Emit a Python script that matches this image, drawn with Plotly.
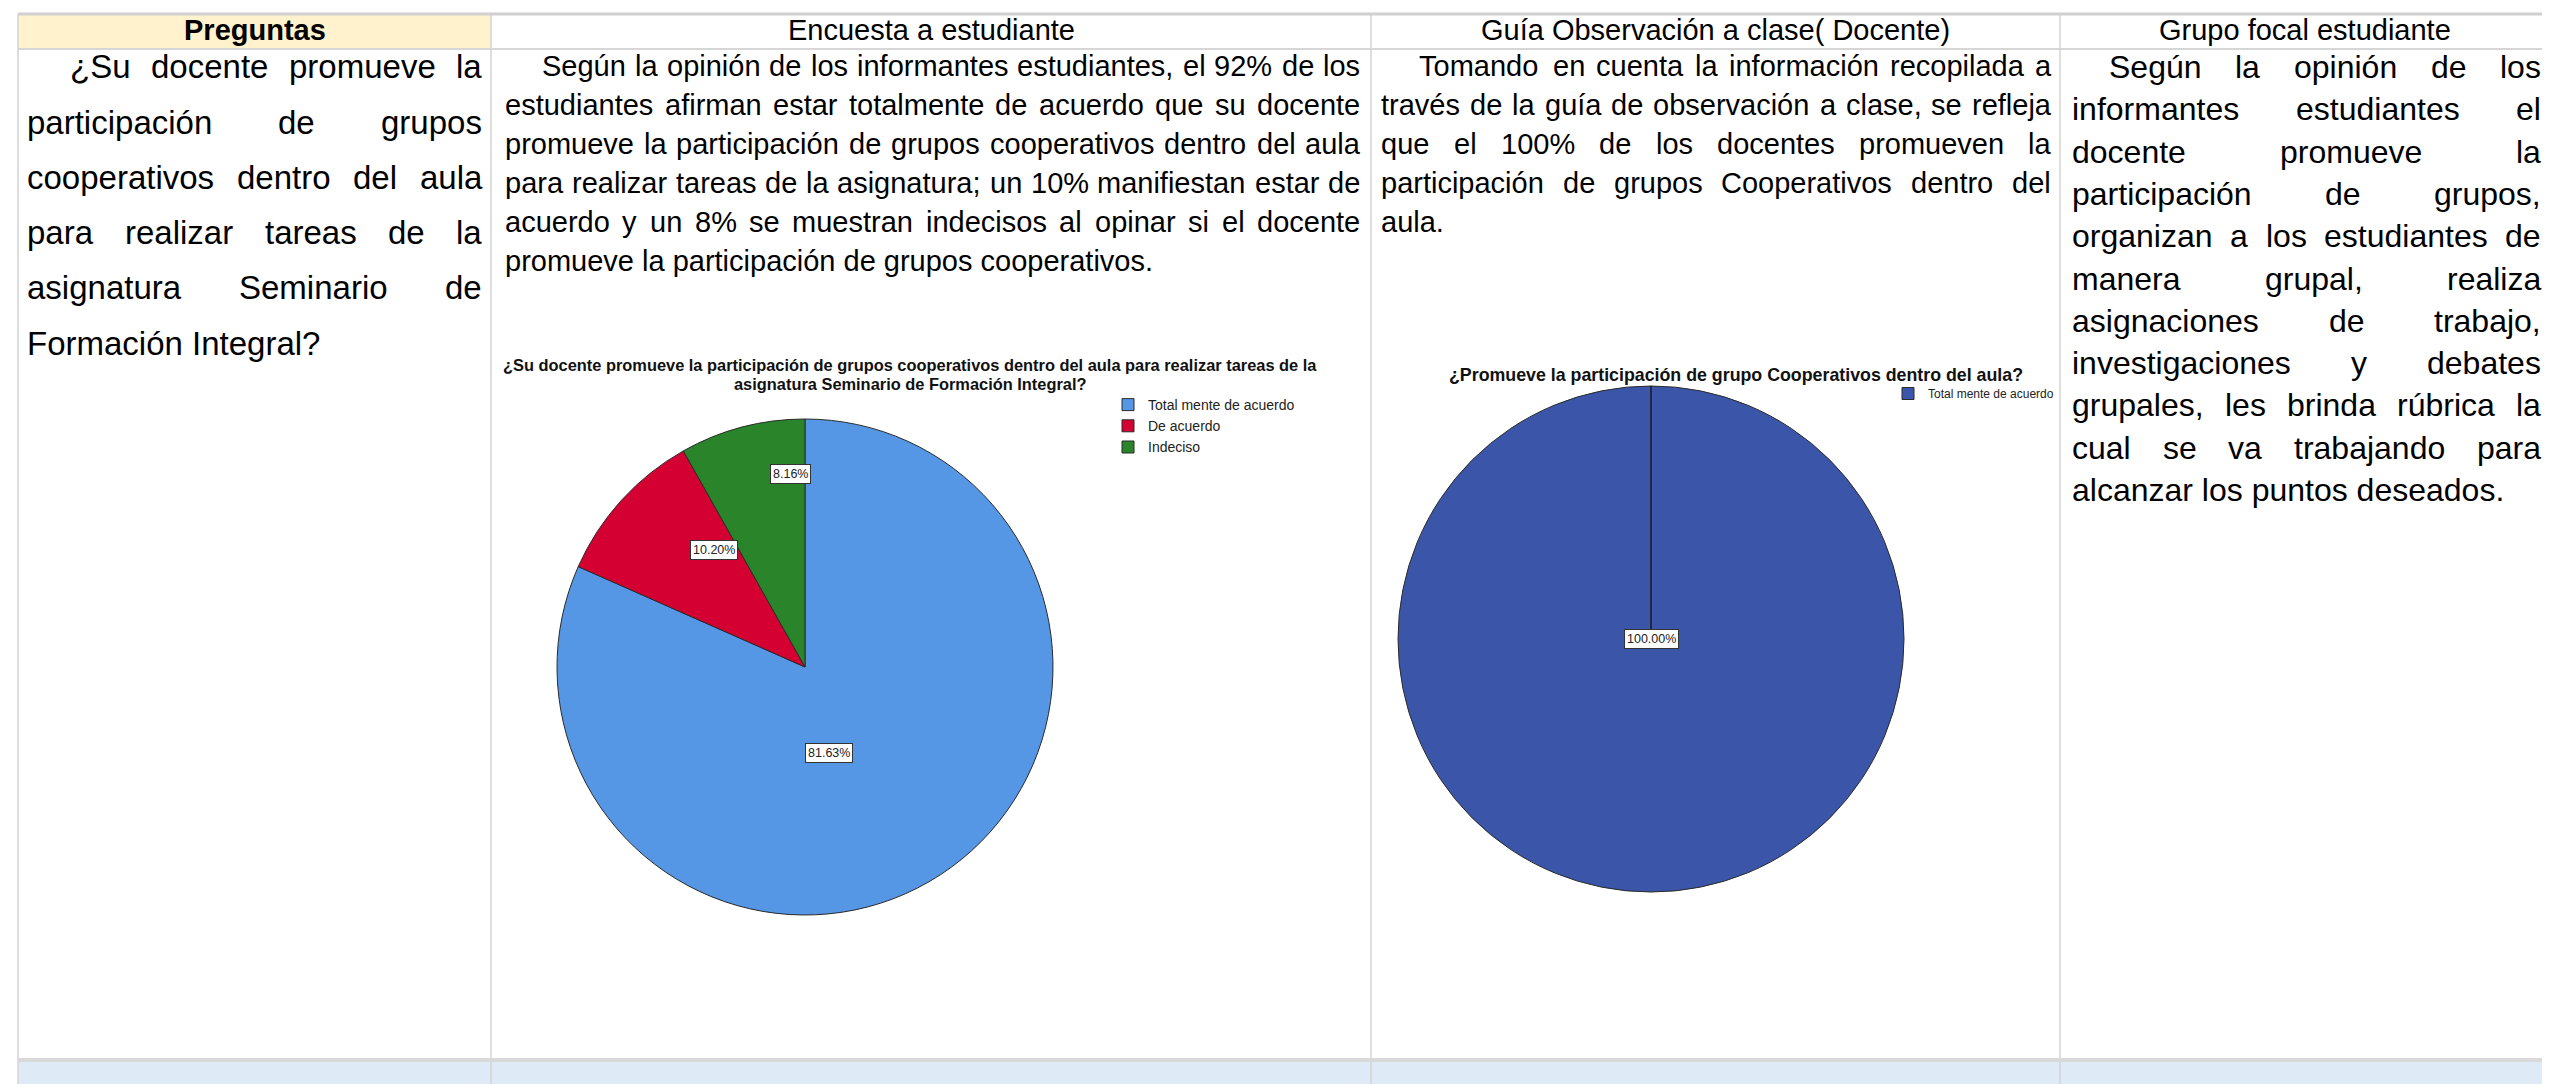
import plotly.graph_objects as go

W, H = 2550, 1084

# ---------------- data ----------------
headers = ["Preguntas", "Encuesta a estudiante",
           "Guía Observación a clase( Docente)", "Grupo focal estudiante"]

pregunta_lines = [
    "¿Su docente promueve la",
    "participación de grupos",
    "cooperativos dentro del aula",
    "para realizar tareas de la",
    "asignatura Seminario de",
    "Formación Integral?",
]
encuesta_lines = [
    "Según la opinión de los informantes estudiantes, el 92% de los",
    "estudiantes afirman estar totalmente de acuerdo que su docente",
    "promueve la participación de grupos cooperativos dentro del aula",
    "para realizar tareas de la asignatura; un 10% manifiestan estar de",
    "acuerdo  y un 8% se muestran indecisos al opinar si el docente",
    "promueve la participación de grupos cooperativos.",
]
guia_lines = [
    "Tomando en cuenta la información recopilada a",
    "través de la guía de observación a clase, se refleja",
    "que el 100% de los docentes promueven la",
    "participación de grupos Cooperativos dentro del",
    "aula.",
]
focal_lines = [
    "Según la opinión de los",
    "informantes estudiantes el",
    "docente promueve la",
    "participación de grupos,",
    "organizan a los estudiantes de",
    "manera grupal, realiza",
    "asignaciones de trabajo,",
    "investigaciones y debates",
    "grupales, les brinda rúbrica la",
    "cual se va trabajando para",
    "alcanzar los puntos deseados.",
]

pie1_title_lines = [
    "¿Su docente promueve la participación de grupos cooperativos dentro del aula para realizar tareas de la",
    "asignatura Seminario de Formación Integral?",
]
pie1_labels = ["Total mente de acuerdo", "De acuerdo", "Indeciso"]
pie1_counts = [40, 5, 4]

pie2_title = "¿Promueve la participación de grupo Cooperativos dentro del aula?"
pie2_labels = ["Total mente de acuerdo"]
pie2_counts = [100]

# ---------------- styles ----------------
FONT = "Liberation Sans, Arial, sans-serif"
pie1_colors = ["#5596E5", "#D50032", "#2A852A"]
pie2_colors = ["#3B56A9"]
GRID = "#D3D3D3"

# Arial-compatible advance widths (1/1000 em)
AW = {c: 556 for c in "abdeghnopqu0123456789áéóúñ"}
AW.update({'c': 500, 'k': 500, 's': 500, 'v': 500, 'x': 500, 'y': 500, 'z': 500,
           'f': 278, 't': 278, 'i': 222, 'j': 222, 'l': 222, 'r': 333, 'm': 833,
           'w': 722, 'í': 278, ' ': 278, ',': 278, '.': 278, ';': 278, ':': 278,
           '%': 889, '¿': 611, '?': 556, '(': 333, ')': 333,
           'A': 667, 'B': 667, 'C': 722, 'D': 722, 'E': 667, 'F': 611, 'G': 778,
           'H': 722, 'I': 278, 'J': 500, 'K': 667, 'L': 556, 'M': 833, 'N': 722,
           'O': 778, 'P': 667, 'Q': 778, 'R': 722, 'S': 667, 'T': 611, 'U': 722,
           'V': 667, 'W': 944, 'X': 667, 'Y': 667, 'Z': 611})


def tw(s, size):
    return sum(AW.get(ch, 556) for ch in s) * size / 1000.0


def fx(x):
    return x / W


def fy(y):
    return 1 - y / H


annotations = []
shapes = []


def add_text(text, x, y, size, bold=False, xanchor="left", color="#000000", family=FONT):
    if bold:
        text = "<b>" + text + "</b>"
    annotations.append(dict(text=text, x=fx(x), y=fy(y), xref="paper", yref="paper",
                            xanchor=xanchor, yanchor="middle", showarrow=False,
                            borderpad=0, font=dict(family=family, size=size, color=color)))


def add_paragraph(lines, left, right, indent_left, y0, dy, size):
    for i, line in enumerate(lines):
        y = y0 + i * dy - 3
        start = indent_left if i == 0 else left
        words = line.split()
        if i == len(lines) - 1 or len(words) == 1:
            add_text(line, start, y, size)
            continue
        total = sum(tw(w, size) for w in words)
        gap = (right - start - total) / (len(words) - 1)
        x = start
        for w in words:
            add_text(w, x, y, size)
            x += tw(w, size) + gap


def line(x0, y0, x1, y1, color=GRID, width=1.5):
    shapes.append(dict(type="line", xref="paper", yref="paper", x0=fx(x0), y0=fy(y0),
                       x1=fx(x1), y1=fy(y1), line=dict(color=color, width=width), layer="below"))


def rect(x0, y0, x1, y1, color):
    shapes.append(dict(type="rect", xref="paper", yref="paper", x0=fx(x0), y0=fy(y0),
                       x1=fx(x1), y1=fy(y1), fillcolor=color, line=dict(width=0), layer="below"))


# ---------------- table frame ----------------
col_x = [10, 483, 1363, 2052, 2541]
top, head_bot, body_bot = 6, 41, 1052

rect(col_x[0], top, col_x[1], head_bot, "#FFF2CC")
rect(col_x[0], body_bot, col_x[4], H + 2, "#DEEAF6")
line(col_x[0], top, col_x[4], top, "#D0D0D0", 3)
line(col_x[0], head_bot, col_x[4], head_bot, "#D6D6D6", 2)
for cx in col_x:
    line(cx, top, cx, H + 2, GRID, 1.5)
line(col_x[0], body_bot, col_x[4], body_bot, "#D9D9D9", 4)

# headers
for i, htxt in enumerate(headers):
    add_text(htxt, (col_x[i] + col_x[i + 1]) / 2, 22, 29, bold=(i == 0), xanchor="center")

# paragraphs
add_paragraph(pregunta_lines, 18, 473, 61, 62, 55.2, 33)
add_paragraph(encuesta_lines, 496, 1351, 533, 61, 39, 29)
add_paragraph(guia_lines, 1372, 2042, 1410, 61, 39, 29)
add_paragraph(focal_lines, 2063, 2532, 2100, 62, 42.3, 32)

# ---------------- pies ----------------
def domain(cx, cy, r):
    return dict(x=[fx(cx - r), fx(cx + r)], y=[fy(cy + r), fy(cy - r)])


p1c, p1r = (797, 659), 248
p2c, p2r = (1643, 631), 253

fig = go.Figure()
fig.add_trace(go.Pie(labels=pie1_labels, values=pie1_counts, sort=False,
                     direction="clockwise", rotation=0, textinfo="none",
                     marker=dict(colors=pie1_colors, line=dict(color="#2b2b2b", width=1)),
                     domain=domain(p1c[0], p1c[1], p1r), legend="legend", legendgroup="p1",
                     hovertemplate="%{label}: %{percent:.2%}<extra></extra>"))
fig.add_trace(go.Pie(labels=pie2_labels, values=pie2_counts, sort=False,
                     direction="clockwise", rotation=0, textinfo="none",
                     marker=dict(colors=pie2_colors, line=dict(color="#2b2b2b", width=1)),
                     domain=domain(p2c[0], p2c[1], p2r), legend="legend2", legendgroup="p2",
                     hovertemplate="%{label}: %{percent:.2%}<extra></extra>"))

# percent labels (white boxed, like the SPSS output)
pie1_label_offsets = [(0.0, 0.387), (-0.464, -0.472), (-0.141, -0.778)]  # style: fraction of radius
tot1 = sum(pie1_counts)
for v, (dx, dy) in zip(pie1_counts, pie1_label_offsets):
    annotations.append(dict(text=f"{v / tot1 * 100:.2f}%", x=fx(p1c[0] + dx * p1r),
                            y=fy(p1c[1] + dy * p1r), xref="paper", yref="paper",
                            showarrow=False, bgcolor="white", bordercolor="#333333",
                            borderwidth=1, borderpad=2,
                            font=dict(family=FONT, size=12.5, color="#222222")))
tot2 = sum(pie2_counts)
for v in pie2_counts:
    annotations.append(dict(text=f"{v / tot2 * 100:.2f}%", x=fx(p2c[0]), y=fy(p2c[1]),
                            xref="paper", yref="paper", showarrow=False, bgcolor="white",
                            bordercolor="#333333", borderwidth=1, borderpad=2,
                            font=dict(family=FONT, size=12.5, color="#222222")))
# slice edge of the single full slice (from centre up to 12 o'clock)
shapes.append(dict(type="line", xref="paper", yref="paper", x0=fx(p2c[0]), y0=fy(p2c[1] - 10),
                   x1=fx(p2c[0]), y1=fy(p2c[1] - p2r), line=dict(color="#1a1a1a", width=1.5),
                   layer="above"))

# chart titles
add_text(pie1_title_lines[0], 902, 357, 16.4, bold=True, xanchor="center", color="#111111")
add_text(pie1_title_lines[1], 902, 376, 16.4, bold=True, xanchor="center", color="#111111")
add_text(pie2_title, 1728, 367, 17.8, bold=True, xanchor="center", color="#111111")

fig.update_layout(
    width=W, height=H, margin=dict(l=0, r=0, t=0, b=0),
    paper_bgcolor="white", plot_bgcolor="white",
    annotations=annotations, shapes=shapes,
    legend=dict(x=fx(1100), y=fy(381), xanchor="left", yanchor="top",
                font=dict(family=FONT, size=14, color="#222222"),
                bgcolor="rgba(0,0,0,0)", tracegroupgap=0, itemclick=False, itemdoubleclick=False),
    legend2=dict(x=fx(1880), y=fy(371), xanchor="left", yanchor="top",
                 font=dict(family=FONT, size=12, color="#222222"),
                 bgcolor="rgba(0,0,0,0)", itemclick=False, itemdoubleclick=False),
)

fig.write_html("out.html")
